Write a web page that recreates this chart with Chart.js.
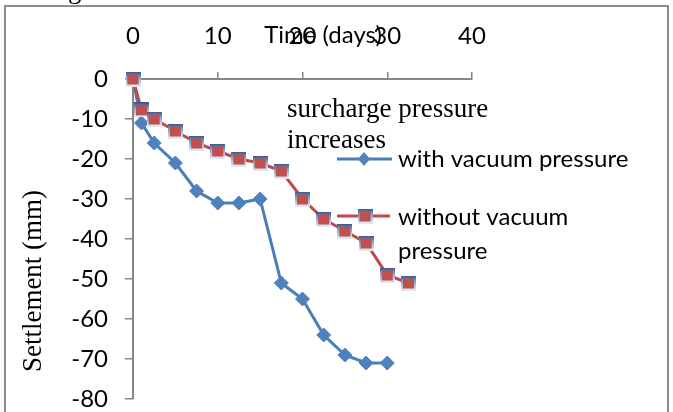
<!DOCTYPE html>
<html>
<head>
<meta charset="utf-8">
<script src="https://cdn.jsdelivr.net/npm/chart.js@4"></script>
<style>
  html, body { margin: 0; padding: 0; background: #fff; }
  #wrap { width: 673px; height: 412px; }
</style>
</head>
<body>
<div id="wrap"><canvas id="settleChart" width="673" height="412"></canvas></div>
<script>
// data
const vacDays = [0, 1, 2.5, 5, 7.5, 10, 12.5, 15, 17.5, 20, 22.5, 25, 27.5, 30];
const vacSettle = [0, -11, -16, -21, -28, -31, -31, -30, -51, -55, -64, -69, -71, -71];
const noVacDays = [0, 1, 2.5, 5, 7.5, 10, 12.5, 15, 17.5, 20, 22.5, 25, 27.5, 30, 32.5];
const noVacSettle = [0, -7.7, -10, -13, -16, -18, -20, -21, -23, -30, -35, -38, -41, -49, -51];
const xTicks = [0, 10, 20, 30, 40];
const yTicks = [0, -10, -20, -30, -40, -50, -60, -70, -80];

const BLUE = '#4A7EBB';
const RED = '#BE4B48';
const SANS = 'Lato, "Noto Sans", sans-serif';
const SERIF = '"Liberation Serif", "DejaVu Serif", serif';

function toPoints(xs, ys) {
    return xs.map(function (x, i) { return { x: x, y: ys[i] }; });
}

// excel-ish square marker: red with a blue shaded rim
function squareMarker() {
    const c = document.createElement('canvas');
    c.width = 15; c.height = 15;
    const g = c.getContext('2d');
    const grad = g.createLinearGradient(0, 0, 0, 15);
    grad.addColorStop(0, '#2F5189');
    grad.addColorStop(0.35, '#7E9CC8');
    grad.addColorStop(1, '#E4ECF6');
    g.fillStyle = grad;
    g.fillRect(0, 0, 15, 15);
    g.fillStyle = '#C0504D';
    g.fillRect(2, 3, 11, 10);
    return c;
}
const sq = squareMarker();

const decor = {
    id: 'decor',
    beforeDraw(chart) {
        const ctx = chart.ctx;
        ctx.save();
        ctx.fillStyle = '#fff';
        ctx.fillRect(0, 0, chart.width, chart.height);
        ctx.strokeStyle = '#8C8C8C';
        ctx.lineWidth = 2;
        ctx.strokeRect(5, 6, 663, 500);
        ctx.fillStyle = '#000';
        ctx.font = '27px ' + SERIF;
        ctx.fillText('g', 68, -2);
        ctx.restore();
    },
    afterDraw(chart) {
        const ctx = chart.ctx;
        ctx.save();
        ctx.fillStyle = '#000';
        // axis titles
        ctx.font = '24px ' + SANS;
        ctx.textAlign = 'center';
        ctx.textBaseline = 'alphabetic';
        ctx.fillText('Time (days)', 323, 43);
        ctx.save();
        ctx.translate(41, 281);
        ctx.rotate(-Math.PI / 2);
        ctx.font = '27px ' + SERIF;
        ctx.textBaseline = 'alphabetic';
        ctx.fillText('Settlement (mm)', 0, 0);
        ctx.restore();
        // annotation
        ctx.textAlign = 'left';
        ctx.font = '27px ' + SERIF;
        ctx.fillText('surcharge pressure', 287, 117);
        ctx.fillText('increases', 287, 148);
        // legend
        ctx.lineWidth = 3;
        ctx.strokeStyle = BLUE;
        ctx.beginPath(); ctx.moveTo(337, 159); ctx.lineTo(392, 159); ctx.stroke();
        ctx.fillStyle = '#4F81BD';
        ctx.beginPath();
        ctx.moveTo(364, 152); ctx.lineTo(370, 159); ctx.lineTo(364, 166); ctx.lineTo(358, 159);
        ctx.closePath(); ctx.fill();
        ctx.strokeStyle = RED;
        ctx.beginPath(); ctx.moveTo(337, 216); ctx.lineTo(390, 216); ctx.stroke();
        ctx.drawImage(sq, 365 - 7.5, 216 - 7.5);
        ctx.fillStyle = '#000';
        ctx.font = '24px ' + SANS;
        ctx.textBaseline = 'middle';
        ctx.fillText('with vacuum pressure', 398, 159);
        ctx.fillText('without vacuum', 398, 217);
        ctx.fillText('pressure', 398, 251);
        ctx.restore();
    }
};

const ctx = document.getElementById('settleChart').getContext('2d');
const settleChart = new Chart(ctx, {
    type: 'line',
    data: {
        datasets: [{
            label: 'with vacuum pressure',
            data: toPoints(vacDays, vacSettle),
            borderColor: BLUE,
            borderWidth: 3,
            pointStyle: 'rectRot',
            pointRadius: 7,
            pointBackgroundColor: '#4F81BD',
            pointBorderColor: '#4F81BD',
            pointBorderWidth: 1,
            tension: 0,
            clip: false,
            order: 2
        }, {
            label: 'without vacuum pressure',
            data: toPoints(noVacDays, noVacSettle),
            borderColor: RED,
            borderWidth: 3,
            pointStyle: sq,
            tension: 0,
            clip: false,
            order: 1
        }]
    },
    options: {
        responsive: false,
        animation: false,
        layout: { padding: { left: 0, right: 201, top: 0, bottom: 13 } },
        plugins: {
            legend: { display: false },
            tooltip: { enabled: false }
        },
        scales: {
            x: {
                type: 'linear',
                position: 'top',
                min: 0,
                max: 40,
                afterFit: function (s) { s.height = 79; s.paddingLeft = 0; s.paddingRight = 0; },
                afterBuildTicks: function (s) { s.ticks = xTicks.map(function (v) { return { value: v }; }); },
                grid: { drawOnChartArea: false, color: '#868686', tickLength: 7, lineWidth: 1.5 },
                border: { color: '#868686', width: 2 },
                ticks: { color: '#000', font: { family: SANS, size: 24 }, padding: 21 }
            },
            y: {
                min: -80,
                max: 0,
                afterFit: function (s) { s.width = 133; s.paddingTop = 0; s.paddingBottom = 0; },
                afterBuildTicks: function (s) { s.ticks = yTicks.map(function (v) { return { value: v }; }); },
                grid: { drawOnChartArea: false, color: '#868686', tickLength: 8, lineWidth: 1.5 },
                border: { color: '#868686', width: 2 },
                ticks: { color: '#000', font: { family: SANS, size: 24 }, padding: 17 }
            }
        }
    },
    plugins: [decor]
});
</script>
</body>
</html>
